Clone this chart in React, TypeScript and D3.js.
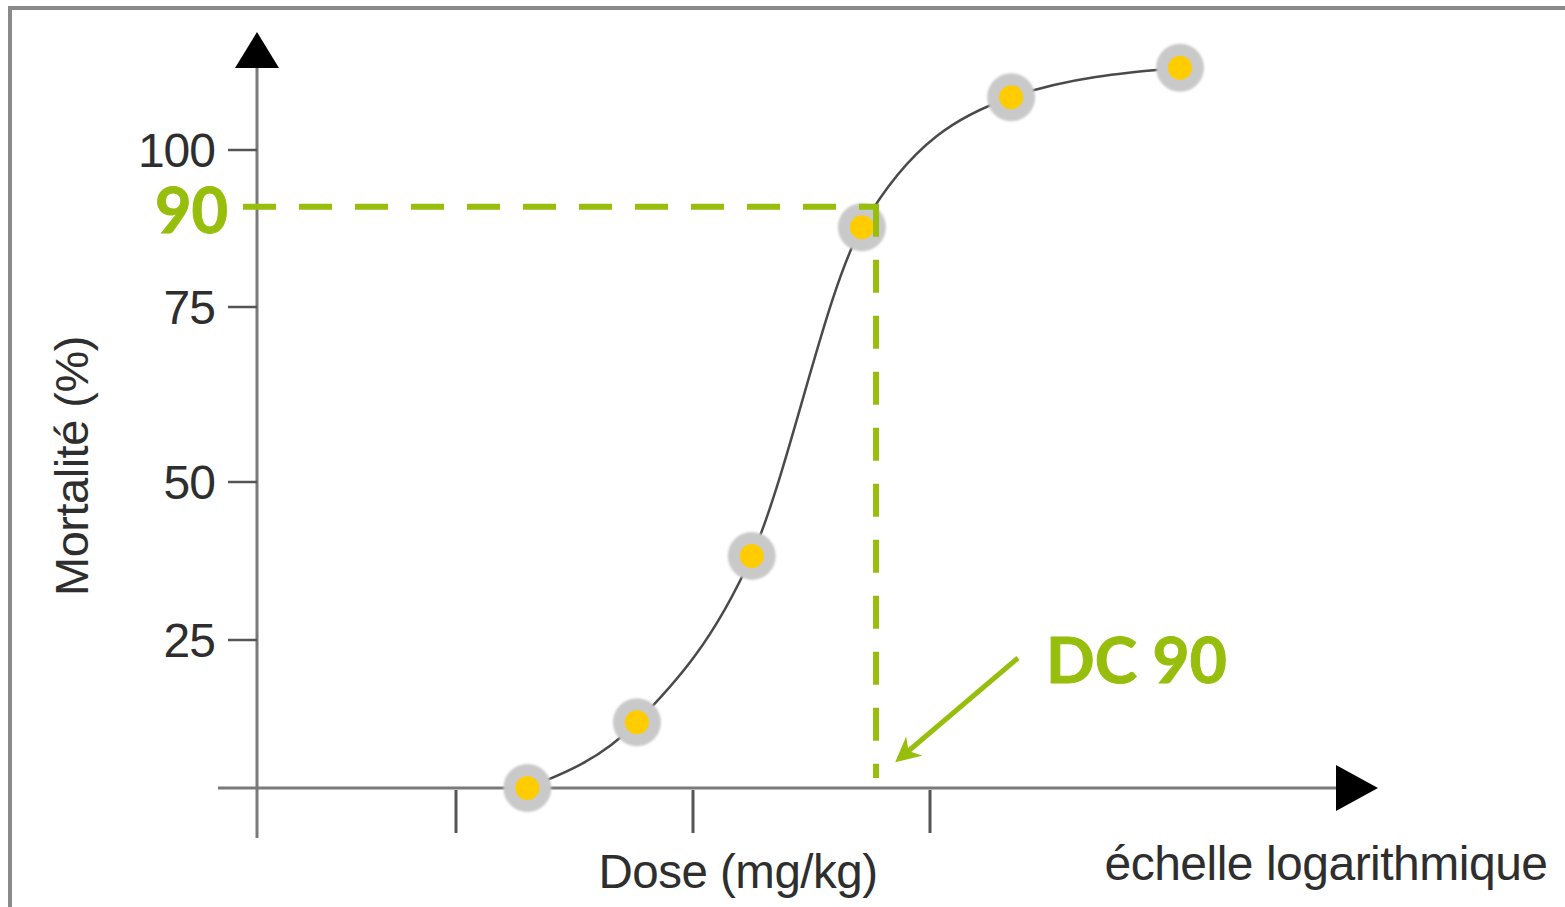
import React from "react";
import * as d3 from "d3";

// Dose–response points (dose in mg/kg, mortality in %)
const doses = [2.0, 5.8, 17.7, 51.6, 220, 1135];
const mortality = [0, 11.1, 38.3, 87.7, 108.4, 113.1];

// Axis ticks
const yTicks = [25, 50, 75, 100];
const xTickDoses = [1, 10, 100];

// DC 90 reference
const dcLevel = 90;
const dcDose = 59.2;
const dcLabel = "DC 90";

const GREEN = "#97BE0D";
const AXIS = "#7a7a7a";
const TEXT = "#2e2e2e";

export default function App() {
  const W = 1565;
  const H = 907;

  const x = d3.scaleLog().domain([1, 100]).range([456, 930]);
  const y = d3
    .scaleLinear()
    .domain([0, 25, 50, 75, 100])
    .range([788, 640, 482, 307, 150]);

  const x0 = 257; // y-axis position
  const y0 = y(0); // x-axis position

  const pts: [number, number][] = doses.map((d, i) => [x(d), y(mortality[i])]);
  const line = d3.line().curve(d3.curveMonotoneX)(pts) || "";

  const dcX = x(dcDose);
  const dcY = y(dcLevel) - 6;

  const font = "'Liberation Sans', Arial, sans-serif";
  const fontBold = "Lato, 'Open Sans', sans-serif";

  return (
    <svg
      width={W}
      height={H}
      style={{ position: "absolute", left: 0, top: 0, background: "#fff" }}
    >
      <defs>
        <filter id="soft" x="-50%" y="-50%" width="200%" height="200%">
          <feGaussianBlur stdDeviation="0.8" />
        </filter>
        <marker
          id="greenHead"
          viewBox="0 0 10 10"
          refX="8"
          refY="5"
          markerWidth="5"
          markerHeight="5"
          orient="auto"
        >
          <path d="M0,0 L10,5 L0,10 L3,5 Z" fill={GREEN} />
        </marker>
      </defs>

      {/* frame */}
      <rect x={10} y={8} width={W + 20} height={H + 20} fill="none" stroke="#8a8a8a" strokeWidth={4} />

      {/* y axis */}
      <line x1={x0} y1={62} x2={x0} y2={838} stroke={AXIS} strokeWidth={3} />
      <path d={`M${x0 - 22},${68} L${x0},${32} L${x0 + 22},${68} Z`} fill="#000" />
      {yTicks.map((t) => (
        <g key={t}>
          <line x1={x0 - 29} x2={x0} y1={y(t)} y2={y(t)} stroke="#555" strokeWidth={2.5} />
          <text
            x={x0 - 42}
            y={y(t)}
            dy="0.36em"
            textAnchor="end"
            fontFamily={font}
            fontSize={48}
            fill={TEXT}
            letterSpacing={-1}
          >
            {t}
          </text>
        </g>
      ))}

      {/* x axis */}
      <line x1={218} y1={y0} x2={1340} y2={y0} stroke={AXIS} strokeWidth={3} />
      <path d={`M1336,${y0 - 23} L1378,${y0} L1336,${y0 + 23} Z`} fill="#000" />
      {xTickDoses.map((d) => (
        <line key={d} x1={x(d)} x2={x(d)} y1={y0 + 2} y2={y0 + 45} stroke="#555" strokeWidth={3} />
      ))}

      {/* axis titles */}
      <text
        transform={`translate(88,466) rotate(-90)`}
        textAnchor="middle"
        fontFamily={font}
        fontSize={47}
        fill={TEXT}
        letterSpacing={-0.5}
      >
        Mortalité (%)
      </text>
      <text x={738} y={888} textAnchor="middle" fontFamily={font} fontSize={47.5} fill={TEXT} letterSpacing={-0.5}>
        Dose (mg/kg)
      </text>
      <text x={1326} y={880} textAnchor="middle" fontFamily={font} fontSize={48} fill={TEXT} letterSpacing={-0.5}>
        échelle logarithmique
      </text>

      {/* dose-response curve */}
      <path d={line} fill="none" stroke="#4a4a4a" strokeWidth={2.5} />

      {/* points */}
      {pts.map(([px, py], i) => (
        <g key={i}>
          <circle cx={px} cy={py} r={24} fill="#c9c9c9" filter="url(#soft)" />
          <circle cx={px} cy={py} r={12} fill="#FFCC00" />
        </g>
      ))}

      {/* DC 90 guides */}
      <line
        x1={243}
        x2={dcX}
        y1={dcY}
        y2={dcY}
        stroke={GREEN}
        strokeWidth={6}
        strokeDasharray="33 23"
      />
      <line
        x1={dcX}
        x2={dcX}
        y1={dcY - 3}
        y2={778}
        stroke={GREEN}
        strokeWidth={6}
        strokeDasharray="33 23"
      />
      <text
        x={228}
        y={dcY + 26}
        textAnchor="end"
        fontFamily={fontBold}
        fontWeight="bold"
        fontSize={63}
        fill={GREEN}
        stroke={GREEN}
        strokeWidth={1}
      >
        {dcLevel}
      </text>

      {/* DC 90 label and arrow */}
      <line
        x1={1018}
        y1={658}
        x2={899}
        y2={759}
        stroke={GREEN}
        strokeWidth={5}
        markerEnd="url(#greenHead)"
      />
      <text
        x={1046}
        y={683}
        fontFamily={fontBold}
        fontWeight="bold"
        fontSize={64}
        fill={GREEN}
        stroke={GREEN}
        strokeWidth={1}
      >
        {dcLabel}
      </text>
    </svg>
  );
}
